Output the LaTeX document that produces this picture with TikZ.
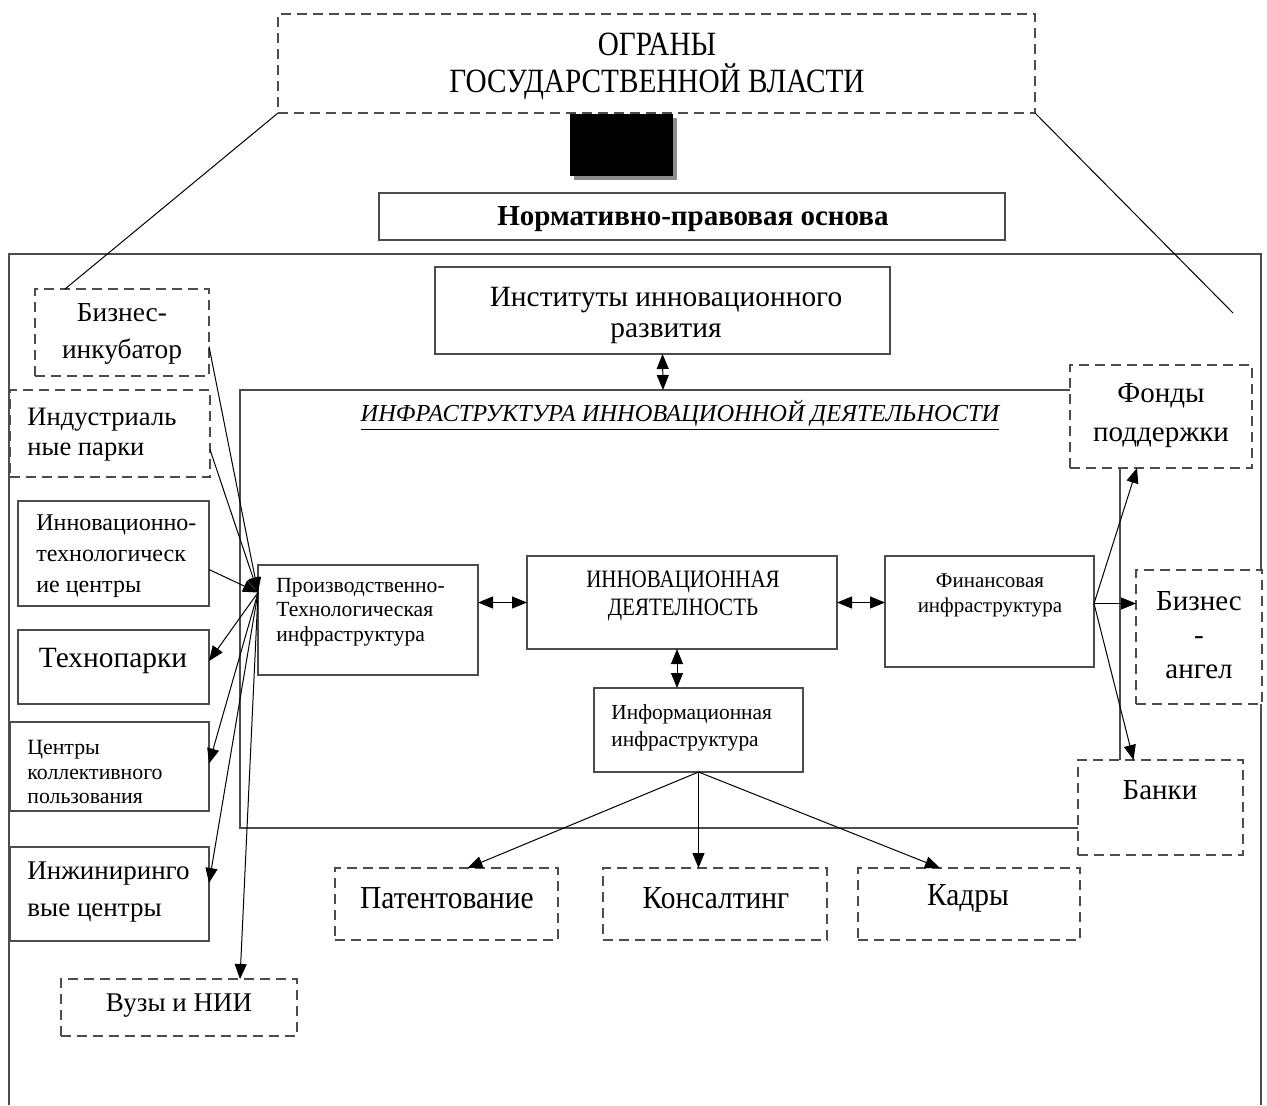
\documentclass[tikz,border=0pt]{standalone}
\usepackage{fontspec}
\setmainfont{Liberation Serif}
\newfontfamily\condf[FakeStretch=0.84]{Liberation Serif}
\newfontfamily\condt[FakeStretch=0.86]{Liberation Serif}
\newfontfamily\condb[FakeStretch=0.92]{Liberation Serif}
\usetikzlibrary{arrows.meta,calc}
\newcommand\mybox[6]{%
  \pgfmathsetmacro\myW{(#5-#3)*0.5}\pgfmathsetmacro\myH{(#6-#4)*0.5}%
  \pgfmathsetmacro\myX{(#3+#5)/2}\pgfmathsetmacro\myY{(#4+#6)/2}%
  \node[#2, minimum width=\myW pt, minimum height=\myH pt] (#1) at (\myX,\myY) {};}
\newcommand\fz[2]{\fontsize{#1pt}{#2pt}\selectfont}
\begin{document}
\begin{tikzpicture}[x=0.5pt,y=-0.5pt,
  frame/.style={draw=black!70, line width=0.7pt},
  sbox/.style={frame, fill=white, inner sep=0pt, outer sep=0pt},
  dbox/.style={sbox, dash pattern=on 5pt off 3pt},
  txt/.style={inner sep=0pt, align=center},
  ltxt/.style={inner sep=0pt, align=left, anchor=west},
  conn/.style={draw=black, line width=0.5pt},
  arr/.style={conn, -{Triangle[length=7.5pt,width=6pt]}},
  darr/.style={conn, {Triangle[length=7.5pt,width=6pt]}-{Triangle[length=7.5pt,width=6pt]}}]
\useasboundingbox (0,0) rectangle (1267,1105);

% outer frame and infrastructure frame
\draw[frame] (9,1105) |- (1261,254) -- (1261,1105);
\draw[frame] (240,390) rectangle (1120,828);
\coordinate (infratop) at (663,390);

% top box
\mybox{org}{dbox}{278}{14}{1035}{113}
\node[txt, font=\condt\fz{17}{18.5}] (orgt) at (657,66) {ОГРАНЫ\\ГОСУДАРСТВЕННОЙ ВЛАСТИ};

% black block with shadow
\fill[black!45] (574,118) rectangle (677,180);
\fill[black] (570,114) rectangle (673,176);

\mybox{norm}{sbox}{379}{193}{1005}{240}
\node[txt, font=\bfseries\fz{14.5}{15}] (normt) at (693,219) {Нормативно-правовая основа};

\mybox{inst}{sbox}{435}{267}{890}{354}
\node[txt, font=\fz{14.7}{15.5}] (instt) at (666,315) {Институты инновационного\\развития};

\node[txt, font=\itshape\fz{12.2}{14}] (infrat) at (680,415) {\underline{ИНФРАСТРУКТУРА ИННОВАЦИОННОЙ ДЕЯТЕЛЬНОСТИ}};

% left column
\mybox{bi}{dbox}{35}{289}{209}{376}
\node[txt, font=\fz{13.7}{18.5}] (bit) at (122,334) {Бизнес-\\инкубатор};
\mybox{ip}{dbox}{10}{390}{210}{477}
\node[ltxt, font=\fz{13.3}{15}] (ipt) at (27,435) {Индустриаль\\ные парки};
\mybox{itc}{sbox}{18}{501}{209}{606}
\node[ltxt, font=\fz{12}{15.5}] (itct) at (36,556) {Инновационно-\\технологическ\\ие центры};
\mybox{tp}{sbox}{18}{630}{209}{704}
\node[txt, font=\fz{14.7}{16}] (tpt) at (113,661) {Технопарки};
\mybox{ckp}{sbox}{10}{722}{209}{811}
\node[ltxt, font=\fz{10.9}{12.25}] (ckpt) at (27,772) {Центры\\коллективного\\пользования};
\mybox{inz}{sbox}{10}{847}{209}{941}
\node[ltxt, font=\fz{13.5}{18.5}] (inzt) at (27,892) {Инжиниринго\\вые центры};
\mybox{vuz}{dbox}{61}{979}{297}{1036}
\node[txt, font=\fz{13.5}{15}] (vuzt) at (179,1006) {Вузы и НИИ};

% centre
\mybox{pt}{sbox}{258}{565}{478}{675}
\node[ltxt, font=\fz{10.8}{12.25}] (ptt) at (276,612) {Производственно-\\Технологическая\\инфраструктура};
\mybox{inn}{sbox}{527}{556}{837}{649}
\node[txt, font=\condf\fz{12.5}{14}] (innt) at (683,596) {ИННОВАЦИОННАЯ\\ДЕЯТЕЛНОСТЬ};
\mybox{fin}{sbox}{885}{556}{1094}{667}
\node[txt, font=\fz{10.5}{12.5}] (fint) at (990,595) {Финансовая\\инфраструктура};
\mybox{info}{sbox}{594}{688}{803}{772}
\node[ltxt, font=\fz{10.7}{13.5}] (infot) at (611,728) {Информационная\\инфраструктура};

% bottom
\mybox{pat}{dbox}{335}{868}{558}{940}
\node[txt, font=\condb\fz{16}{15}] (patt) at (447,898) {Патентование};
\mybox{cons}{dbox}{603}{868}{827}{940}
\node[txt, font=\condb\fz{16}{15}] (const) at (716,898) {Консалтинг};
\mybox{kad}{dbox}{858}{868}{1080}{940}
\node[txt, font=\condb\fz{16}{15}] (kadt) at (968,898) {Кадры};

% right column
\mybox{fond}{dbox}{1070}{365}{1252}{468}
\node[txt, font=\fz{14.5}{19.5}] (fondt) at (1161,416) {Фонды\\поддержки};
\mybox{angel}{dbox}{1136}{570}{1262}{704}
\node[txt, font=\fz{14.5}{17}] (angelt) at (1199,635) {Бизнес\\-\\ангел};
\mybox{bank}{dbox}{1078}{760}{1243}{855}
\node[txt, font=\fz{14.5}{16}] (bankt) at (1160,790) {Банки};

% lines from top box
\coordinate (rend) at (1233,313);
\draw[conn] (org.south west) -- ($(bi.north)+(-57,0)$);
\draw[conn] (org.south east) -- (rend);

% centre arrows
\draw[darr] (inst.south) -- (infratop);
\draw[darr] (inn.west) -- (pt.east |- inn.west);
\draw[darr] (inn.east) -- (fin.west |- inn.east);
\draw[darr] ([xshift=-2.5pt]inn.south) -- ([xshift=-2.5pt]inn.south |- info.north);

% info arrows
\draw[arr] (info.south) -- ($(pat.north)+(21,0)$);
\draw[arr] (info.south) -- (info.south |- cons.north);
\draw[arr] (info.south) -- ($(kad.north)+(-29,0)$);

% financial arrows
\coordinate (fs) at ($(fin.east)+(0,-8)$);
\draw[arr] (fs) -- ($(fond.south)+(-24,0)$);
\draw[arr] (fs) -- (fs -| angel.west);
\draw[arr] (fs) -- ($(bank.north)+(-27,0)$);

% left arrows
\coordinate (cv) at ($(pt.north west)!0.25!(pt.south west)$);
\draw[arr] ($(bi.east)+(0,14)$) -- (cv);
\draw[arr] ($(ip.east)+(0,16)$) -- (cv);
\draw[arr] ($(itc.east)+(0,16)$) -- (cv);
\draw[arr] (cv) -- ($(tp.east)+(0,-6)$);
\draw[arr] (cv) -- ($(ckp.east)+(0,-3)$);
\draw[arr] (cv) -- ($(inz.east)+(0,-11)$);
\draw[arr] (cv) -- ($(vuz.north west)+(179,0)$);
\end{tikzpicture}
\end{document}
